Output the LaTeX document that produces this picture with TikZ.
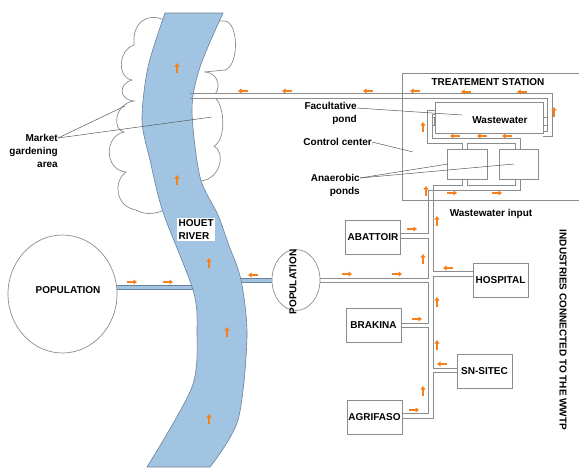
\documentclass[tikz,border=0pt]{standalone}
\usepackage{fontspec}
\setmainfont{Liberation Sans}
\usepackage{tikz}
\usetikzlibrary{positioning, arrows.meta, shapes.geometric}

\definecolor{riverblue}{RGB}{160,196,226}
\definecolor{riverline}{RGB}{105,130,155}
\definecolor{pipegray}{RGB}{140,140,140}
\definecolor{floworange}{RGB}{245,128,30}

\tikzset{
  pipe/.style={draw=pipegray, line width=0.7pt},
  unit/.style={draw=pipegray, fill=white, line width=0.7pt, inner sep=0pt,
    minimum width=55pt, minimum height=34pt},
  flow/.style={draw=floworange, line width=1.8pt, -{Triangle[length=3.5pt,width=5pt]}},
  leader/.style={draw=black!65, line width=0.5pt},
  lbl/.style={align=right, inner sep=0pt},
}

\begin{document}
\begin{tikzpicture}[x=1pt, y=-1pt, font=\fontsize{10}{13}\selectfont\bfseries]
    \useasboundingbox (0,0) rectangle (579,467);

    % Market gardening area on both banks
    \draw[pipe, fill=white] (168,22) .. controls (152,12) and (132,18) .. (134,45)
        .. controls (118,50) and (117,78) .. (132,80)
        .. controls (118,84) and (119,100) .. (134,101)
        .. controls (114,104) and (112,130) .. (124,132)
        .. controls (104,136) and (104,170) .. (126,172)
        .. controls (114,180) and (114,206) .. (136,210)
        .. controls (146,216) and (160,214) .. (172,206) -- cycle;
    \draw[pipe, fill=white] (196,21) -- (225,21)
        .. controls (239,23) and (239,66) .. (225,70) -- (204,72)
        .. controls (220,72) and (222,92) .. (212,96)
        .. controls (225,100) and (227,140) .. (214,146)
        .. controls (225,152) and (222,178) .. (201,181)
        -- (188,180) -- (186,100) -- cycle;

    % Population nodes
    \node[ellipse, draw=pipegray, line width=0.7pt, minimum width=109pt, minimum height=118pt] (popl) at (62.5,294) {};
    \node at (68,290) {POPULATION};
    \node[ellipse, draw=pipegray, line width=0.7pt, fill=white, minimum width=48pt, minimum height=61pt] (popr) at (296,280) {};
    \node[rotate=90] at (293,282) {POPULATION};

    % Pipes discharging into the river
    \path[fill=white] (190,93) rectangle (402,98);
    \path[fill=riverblue] (popl.east |- 0,285) rectangle (196,289);
    \draw[draw=riverline, line width=0.6pt] (popl.east |- 0,285) -- (196,285) (popl.east |- 0,289) -- (196,289);
    \path[fill=riverblue] (236,278) rectangle (popr.west |- 0,282);
    \draw[draw=riverline, line width=0.6pt] (236,278) -- (popr.west |- 0,278) (236,282) -- (popr.west |- 0,282);

    % Houet river
    \filldraw[fill=riverblue, draw=riverline, line width=0.6pt]
        plot[smooth] coordinates {(165,13) (148,67) (142,120) (150,160) (163,212) (193,290) (197,330) (192,387) (147,467)}
        -- plot[smooth] coordinates {(210,467) (238,420) (247,337) (241,280) (228,243) (218,215) (200,177) (192,110) (200,67) (223,13)}
        -- cycle;
    \node[fill=white, align=left, inner sep=1.5pt, anchor=north west] (river) at (177,218) {HOUET\\RIVER};

    % Treatment station
    \draw[pipe] (579,73) -- (402,73) -- (402,200) -- (579,200);
    \node (title) at (488,82) {TREATEMENT STATION};
    \node[unit, minimum width=108pt, minimum height=31pt] (fac) at (489,117.5) {};
    \node at (500,120) {Wastewater};
    \node[unit, minimum width=40pt, minimum height=30pt] (pond1) at (467,164) {};
    \node[unit, minimum width=39pt, minimum height=30pt] (pond2) at (518.5,164) {};
    \draw[pipe] (fac.west |- 0,117) rectangle (432,125);
    \draw[pipe] (fac.east |- 0,117) rectangle (547,125);

    % Return pipe to the river
    \draw[pipe] (190,93) -- (552,93) -- (552,136) -- (fac.east |- 0,136);
    \draw[pipe] (190,98) -- (547,98) -- (547,131) -- (fac.east |- 0,131);

    % Ponds to facultative pond
    \draw[pipe] (fac.west |- 0,110) -- (427,110) -- (427,143) -- (462,143) -- (pond1.north -| 462,0);
    \draw[pipe] (fac.west |- 0,114) -- (432,114) -- (432,138) -- (520,138) -- (pond2.north -| 520,0);
    \draw[pipe] (pond1.north) -- (467,143) -- (515,143) -- (pond2.north -| 515,0);
    \draw[pipe] (pond1.south) -- (467,185) -- (515,185) -- (pond2.south -| 515,0);

    % Industries
    \node[unit] (abattoir) at (373,237) {ABATTOIR};
    \node[unit] (hospital) at (500.5,280) {HOSPITAL};
    \node[unit] (brakina) at (373.5,325) {BRAKINA};
    \node[unit] (snsitec) at (484.5,371) {SN-SITEC};
    \node[unit] (agrifaso) at (374.5,417) {AGRIFASO};

    % Wastewater collector
    \draw[pipe] (pond1.south -| 462,0) -- (462,185) -- (433,185) -- (433,271) -- (hospital.west |- 0,271);
    \draw[pipe] (pond2.south -| 520,0) -- (520,190) -- (428,190) -- (428,233) -- (abattoir.east |- 0,233);
    \draw[pipe] (hospital.west |- 0,276) -- (433,276) -- (433,368) -- (snsitec.west |- 0,368);
    \draw[pipe] (snsitec.west |- 0,372) -- (433,372) -- (433,418) -- (agrifaso.east |- 0,418);
    \draw[pipe] (agrifaso.east |- 0,413) -- (428,413) -- (428,327) -- (brakina.east |- 0,327);
    \draw[pipe] (brakina.east |- 0,323) -- (428,323) -- (428,282) -- (popr.east |- 0,282);
    \draw[pipe] (popr.east |- 0,278) -- (428,278) -- (428,238) -- (abattoir.east |- 0,238);

    % Labels and leaders
    \node[lbl, anchor=east] (market) at (58,151) {Market\\gardening\\area};
    \draw[leader] (market.east |- 0,138) -- (125,106);
    \draw[leader] (market.east |- 0,138) -- (212,117);
    \node[lbl, anchor=east] (faclbl) at (357,113.5) {Facultative\\pond};
    \draw[leader] (faclbl.east |- 0,108) -- (462,115);
    \node[lbl, anchor=east] (ctrl) at (372,142) {Control center};
    \draw[leader] (ctrl.east) -- (413,152);
    \node[lbl, anchor=east] (anlbl) at (360,185) {Anaerobic\\ponds};
    \draw[leader] (anlbl.east |- 0,178) -- (448,164);
    \draw[leader] (anlbl.east |- 0,178) -- (514,164);
    \node (input) at (491,214) {Wastewater input};
    \node[rotate=-90] (industries) at (563,330) {INDUSTRIES CONNECTED TO THE WWTP};

    % Flow directions
    \foreach \x/\y in {243/91, 287/91, 368/91, 415/91, 466/92, 522/92, 455/136, 482/136, 507/136,
                       448/268, 442/364, 253/275}
        \draw[flow] (\x+5,\y) -- (\x-5,\y);
    \foreach \x/\y in {452/193, 497/193, 412/229, 347/274, 397/274, 417/319, 414/410, 132/282, 168/282}
        \draw[flow] (\x-5,\y) -- (\x+5,\y);
    \foreach \x/\y in {554/112, 423/127, 426/191, 437/221, 423/259, 437/302, 437/345, 423/391,
                       177/68, 177/180, 209/263, 227/332, 209/419}
        \draw[flow] (\x,\y+5) -- (\x,\y-5);
\end{tikzpicture}
\end{document}
